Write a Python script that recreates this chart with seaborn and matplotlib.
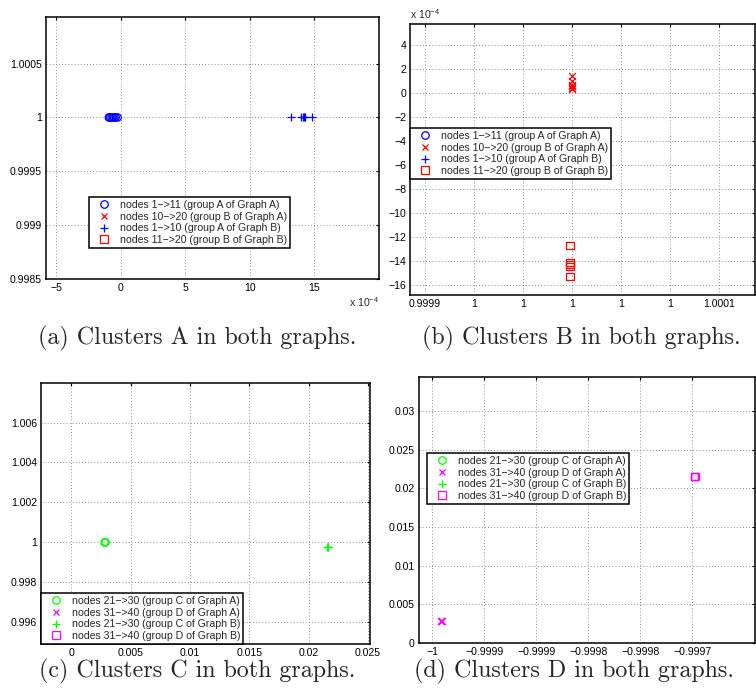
import numpy as np
import pandas as pd
import matplotlib
matplotlib.use("Agg")
import matplotlib.pyplot as plt
import matplotlib.lines as mlines
from matplotlib.ticker import FixedLocator, FixedFormatter
import seaborn as sns

sns.set_style("white")
plt.rcParams['font.family'] = ['Liberation Sans', 'DejaVu Sans']
plt.rcParams['mathtext.fontset'] = 'custom'
plt.rcParams['mathtext.rm'] = 'Liberation Sans'

# ---------------- data ----------------
# panel (a): clusters A
a_gA_x = [-0.93e-4, -0.85e-4, -0.72e-4, -0.62e-4, -0.52e-4, -0.40e-4, -0.25e-4]
a_gA_y = [1.0, 1.0, 1.0, 1.0, 1.0, 1.0, 1.0]
a_gB_x = [13.2e-4, 13.95e-4, 14.1e-4, 14.2e-4, 14.25e-4, 14.8e-4]
a_gB_y = [1.0, 1.0, 1.0, 1.0, 1.0, 1.0]
a_xticks = [-5e-4, 0.0, 5e-4, 10e-4, 15e-4]
a_xlabels = ['\u22125', '0', '5', '10', '15']
a_yticks = [0.9985, 0.999, 0.9995, 1.0, 1.0005]
a_ylabels = ['0.9985', '0.999', '0.9995', '1', '1.0005']

# panel (b): clusters B
b_gA_x = [1.0, 1.0, 1.0, 1.0, 1.0, 1.0]
b_gA_y = [1.45e-4, 1.0e-4, 0.72e-4, 0.58e-4, 0.47e-4, 0.35e-4]
b_gB_x = [0.9999992, 0.9999992, 0.9999992, 0.9999992, 0.9999992]
b_gB_y = [-12.65e-4, -14.1e-4, -14.25e-4, -14.4e-4, -15.25e-4]
b_xticks = [0.99994, 0.99996, 0.99998, 1.0, 1.00002, 1.00004, 1.00006]
b_xlabels = ['0.9999', '1', '1', '1', '1', '1', '1.0001']
b_yticks = [-16e-4, -14e-4, -12e-4, -10e-4, -8e-4, -6e-4, -4e-4, -2e-4, 0.0, 2e-4, 4e-4]
b_ylabels = ['\u221216', '\u221214', '\u221212', '\u221210', '\u22128', '\u22126',
             '\u22124', '\u22122', '0', '2', '4']

# panel (c): clusters C
c_gA_x = [0.0028, 0.00284, 0.00288]
c_gA_y = [1.0, 1.0, 1.0]
c_gB_x = [0.02155, 0.0216, 0.02165]
c_gB_y = [0.99978, 0.99978, 0.99978]
c_xticks = [0.0, 0.005, 0.01, 0.015, 0.02, 0.025]
c_xlabels = ['0', '0.005', '0.01', '0.015', '0.02', '0.025']
c_yticks = [0.996, 0.998, 1.0, 1.002, 1.004, 1.006]
c_ylabels = ['0.996', '0.998', '1', '1.002', '1.004', '1.006']

# panel (d): clusters D
d_gA_x = [-0.999991, -0.9999905, -0.999991]
d_gA_y = [0.00286, 0.00288, 0.00284]
d_gB_x = [-0.999748, -0.9997475, -0.999748]
d_gB_y = [0.02154, 0.02156, 0.02152]
d_xticks = [-1.0, -0.99995, -0.9999, -0.99985, -0.9998, -0.99975]
d_xlabels = ['\u22121', '\u22120.9999', '\u22120.9999', '\u22120.9998', '\u22120.9998', '\u22120.9997']
d_yticks = [0.0, 0.005, 0.01, 0.015, 0.02, 0.025, 0.03]
d_ylabels = ['0', '0.005', '0.01', '0.015', '0.02', '0.025', '0.03']

labels_AB = ['nodes 1\u2212>11 (group A of Graph A)',
             'nodes 10\u2212>20 (group B of Graph A)',
             'nodes 1\u2212>10 (group A of Graph B)',
             'nodes 11\u2212>20 (group B of Graph B)']
labels_CD = ['nodes 21\u2212>30 (group C of Graph A)',
             'nodes 31\u2212>40 (group D of Graph A)',
             'nodes 21\u2212>30 (group C of Graph B)',
             'nodes 31\u2212>40 (group D of Graph B)']
captions = ['(a) Clusters A in both graphs.', '(b) Clusters B in both graphs.',
            '(c) Clusters C in both graphs.', '(d) Clusters D in both graphs.']

BLUE, RED, GREEN, MAG = '#0000ff', '#ff0000', '#00ff00', '#ff00ff'
FS = 7.6

W, H = 756, 698
fig = plt.figure(figsize=(W / 100, H / 100), dpi=100)


def make_ax(l, r, t, b):
    return fig.add_axes([l / W, 1 - b / H, (r - l) / W, (b - t) / H])


def style(ax, xt, xl, yt, yl, xlim, ylim):
    ax.set_xlim(*xlim)
    ax.set_ylim(*ylim)
    ax.xaxis.set_major_locator(FixedLocator(xt))
    ax.xaxis.set_major_formatter(FixedFormatter(xl))
    ax.yaxis.set_major_locator(FixedLocator(yt))
    ax.yaxis.set_major_formatter(FixedFormatter(yl))
    ax.grid(True, color='#8c8c8c', linestyle=(0, (1, 2.2)), linewidth=0.7)
    ax.set_axisbelow(True)
    for s in ax.spines.values():
        s.set_visible(True)
        s.set_color('black')
        s.set_linewidth(1.1)
    ax.tick_params(direction='in', length=2.5, width=0.8, top=True, right=True,
                   labelsize=FS, colors='black', pad=3)
    ax.set_xlabel('')
    ax.set_ylabel('')


def scat(ax, x, y, marker, color, s=28):
    df = pd.DataFrame({'x': x, 'y': y})
    if marker in ('o', 's'):
        sns.scatterplot(data=df, x='x', y='y', ax=ax, marker=marker, s=s,
                        facecolor='none', edgecolor=color, linewidth=0.9, legend=False)
    else:
        sns.scatterplot(data=df, x='x', y='y', ax=ax, marker=marker, s=s,
                        color=color, linewidth=0.9, legend=False)


def legend(ax, labels, colors, loc, anchor):
    markers = ['o', 'x', '+', 's']
    sizes = [5.4, 4.2, 5.8, 5.2]
    hs = []
    for m, c, lab, ms in zip(markers, colors, labels, sizes):
        if m in ('o', 's'):
            h = mlines.Line2D([], [], linestyle='none', marker=m, markersize=ms,
                              markerfacecolor='none', markeredgecolor=c, markeredgewidth=0.9, label=lab)
        else:
            h = mlines.Line2D([], [], linestyle='none', marker=m, markersize=ms,
                              color=c, markeredgewidth=0.9, label=lab)
        hs.append(h)
    lg = ax.legend(handles=hs, loc=loc, bbox_to_anchor=anchor, fontsize=FS,
                   frameon=True, fancybox=False, framealpha=1, edgecolor='black',
                   borderpad=0.28, labelspacing=0.16, handlelength=2.3, handletextpad=0.35,
                   borderaxespad=0)
    lg.get_frame().set_linewidth(1.1)
    return lg


# (a)
axa = make_ax(46, 379, 17.3, 279)
scat(axa, a_gA_x, a_gA_y, 'o', BLUE)
scat(axa, a_gB_x, a_gB_y, '+', BLUE, s=32)
style(axa, a_xticks, a_xlabels, a_yticks, a_ylabels, (-5.8e-4, 20e-4), (0.9985, 1.00093))
legend(axa, labels_AB, [BLUE, RED, BLUE, RED], 'upper left', (0.129, 0.313))
fig.text(379 / W, 1 - 307 / H, r'x 10$^{\mathregular{-4}}$',
         ha='right', va='baseline', fontsize=FS)

# (b)
axb = make_ax(410.3, 754.7, 24.3, 295)
scat(axb, b_gA_x, b_gA_y, 'x', RED, s=24)
scat(axb, b_gB_x, b_gB_y, 's', RED)
style(axb, b_xticks, b_xlabels, b_yticks, b_ylabels, (0.999934, 1.0000746), (-16.8e-4, 5.75e-4))
legend(axb, labels_AB, [BLUE, RED, BLUE, RED], 'upper left', (0.0, 0.617))
fig.text(410 / W, 1 - 19 / H, r'x 10$^{\mathregular{-4}}$', ha='left', va='baseline', fontsize=FS)

# (c)
axc = make_ax(41, 370, 383, 644)
scat(axc, c_gA_x, c_gA_y, 'o', GREEN)
scat(axc, c_gB_x, c_gB_y, '+', GREEN, s=32)
style(axc, c_xticks, c_xlabels, c_yticks, c_ylabels, (-0.00256, 0.02517), (0.99491, 1.00798))
legend(axc, labels_CD, [GREEN, MAG, GREEN, MAG], 'lower left', (0.0, 0.0))

# (d)
axd = make_ax(419, 755, 377, 643)
scat(axd, d_gA_x, d_gA_y, 'x', MAG, s=24)
scat(axd, d_gB_x, d_gB_y, 's', MAG)
style(axd, d_xticks, d_xlabels, d_yticks, d_ylabels, (-1.0000125, -0.99969), (0.0, 0.0344))
legend(axd, labels_CD, [GREEN, MAG, GREEN, MAG], 'upper left', (0.024, 0.714))

# captions
cap_pos = [(197.5, 344), (581, 344), (197.5, 677), (574, 677)]
for (cx, cy), cap in zip(cap_pos, captions):
    fig.text(cx / W, 1 - cy / H, cap, ha='center', va='baseline', fontsize=17.3,
             family=['cmr10', 'DejaVu Serif'])

fig.savefig('out.png', dpi=100)
